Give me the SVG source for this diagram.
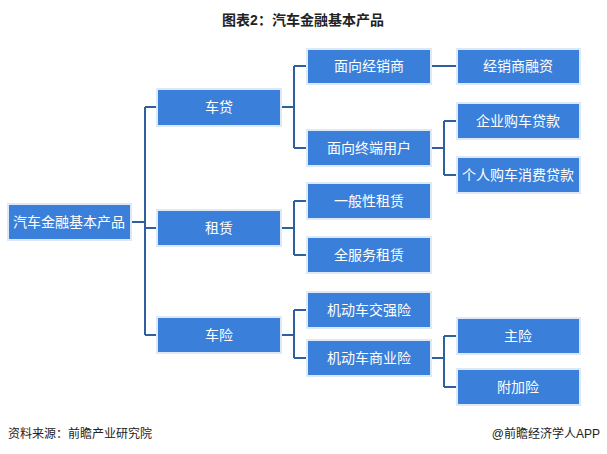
<svg xmlns="http://www.w3.org/2000/svg" width="607" height="454" viewBox="0 0 607 454">
<style>
.n{fill:#3a80da;stroke:#dde9f7;stroke-width:2}
.t{font-family:"Liberation Sans","Noto Sans CJK SC",sans-serif;font-size:14px;fill:#fff;text-anchor:middle;dominant-baseline:central}
.c{fill:none;stroke:#2f5f9e;stroke-width:2}
.h{font-family:"Liberation Sans","Noto Sans CJK SC",sans-serif;fill:#222}
</style>
<rect width="607" height="454" fill="#fff"/>
<text class="h" x="303" y="25" font-size="14" font-weight="bold" text-anchor="middle">图表2：汽车金融基本产品</text>
<g id="connectors">
<path class="c" d="M131 222H145M145 107V335M145 107H157M145 228H157M145 335H157"/>
<path class="c" d="M281 107H294M294 66V148M294 66H307M294 148H307"/>
<path class="c" d="M281 228H294M294 201V255M294 201H307M294 255H307"/>
<path class="c" d="M281 335H294M294 310V358M294 310H307M294 358H307"/>
<path class="c" d="M431 66H457"/>
<path class="c" d="M431 148H444M444 121V175M444 121H457M444 175H457"/>
<path class="c" d="M431 358H444M444 336V387M444 336H457M444 387H457"/>
</g>
<g id="root"><rect class="n" x="8" y="204" width="123" height="36"/><text class="t" x="69" y="222">汽车金融基本产品</text></g>
<g id="chedai"><rect class="n" x="157" y="89" width="124" height="37"/><text class="t" x="219" y="107">车贷</text></g>
<g id="zulin"><rect class="n" x="157" y="210" width="124" height="36"/><text class="t" x="219" y="228">租赁</text></g>
<g id="chexian"><rect class="n" x="157" y="317" width="124" height="36"/><text class="t" x="219" y="335">车险</text></g>
<g id="jxs"><rect class="n" x="307" y="49" width="124" height="35"/><text class="t" x="369" y="66">面向经销商</text></g>
<g id="zdyh"><rect class="n" x="307" y="130" width="124" height="36"/><text class="t" x="369" y="148">面向终端用户</text></g>
<g id="ybx"><rect class="n" x="307" y="183" width="124" height="36"/><text class="t" x="369" y="201">一般性租赁</text></g>
<g id="qfw"><rect class="n" x="307" y="237" width="124" height="36"/><text class="t" x="369" y="255">全服务租赁</text></g>
<g id="jqx"><rect class="n" x="307" y="292" width="124" height="36"/><text class="t" x="369" y="310">机动车交强险</text></g>
<g id="syx"><rect class="n" x="307" y="340" width="124" height="36"/><text class="t" x="369" y="358">机动车商业险</text></g>
<g id="jxsrz"><rect class="n" x="457" y="49" width="123" height="35"/><text class="t" x="518" y="66">经销商融资</text></g>
<g id="qy"><rect class="n" x="457" y="103" width="123" height="36"/><text class="t" x="518" y="121">企业购车贷款</text></g>
<g id="gr"><rect class="n" x="457" y="157" width="123" height="36"/><text class="t" x="518" y="175">个人购车消费贷款</text></g>
<g id="zx"><rect class="n" x="457" y="318" width="123" height="36"/><text class="t" x="518" y="336">主险</text></g>
<g id="fjx"><rect class="n" x="457" y="369" width="123" height="36"/><text class="t" x="518" y="387">附加险</text></g>
<text class="h" x="8" y="438" font-size="12">资料来源：前瞻产业研究院</text>
<text class="h" x="600" y="438" font-size="12" text-anchor="end">@前瞻经济学人APP</text>
</svg>
